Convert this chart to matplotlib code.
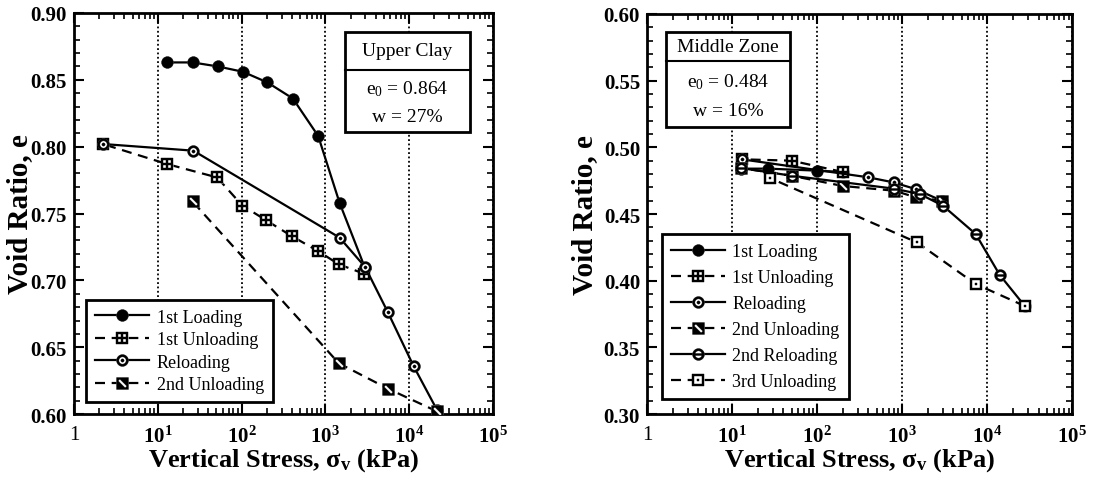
import numpy as np
import matplotlib
matplotlib.use('Agg')
import matplotlib.pyplot as plt
from matplotlib.path import Path
from matplotlib.patches import Rectangle
from matplotlib.ticker import FixedLocator, MultipleLocator, LogLocator, NullFormatter

plt.rcParams['font.family'] = ['Liberation Serif', 'DejaVu Serif']
plt.rcParams['mathtext.fontset'] = 'custom'
plt.rcParams['mathtext.rm'] = 'Liberation Serif'
plt.rcParams['mathtext.it'] = 'Liberation Serif:italic'
plt.rcParams['mathtext.bf'] = 'Liberation Serif:bold'

# --- Upper Clay (left) ---
uc_load_x = [13, 26, 52, 104, 204, 410, 822, 1480, 2990]
uc_load_e = [0.863, 0.863, 0.860, 0.856, 0.848, 0.836, 0.808, 0.758, 0.709]
uc_unload1_x = [2900, 1450, 815, 400, 196, 102, 51, 12.9, 2.2]
uc_unload1_e = [0.705, 0.712, 0.722, 0.733, 0.745, 0.756, 0.777, 0.787, 0.802]
uc_reload_x = [2.2, 26.6, 1480, 2990, 5600, 11300, 21600]
uc_reload_e = [0.802, 0.797, 0.732, 0.710, 0.676, 0.636, 0.603]
uc_unload2_x = [21600, 5600, 1450, 26]
uc_unload2_e = [0.602, 0.619, 0.638, 0.759]

# --- Middle Zone (right) ---
mz_load_x = [12.6, 26.7, 100, 200]
mz_load_e = [0.484, 0.484, 0.4825, 0.4815]
mz_unload1_x = [200, 50, 13]
mz_unload1_e = [0.4815, 0.490, 0.491]
mz_reload_x = [13, 400, 790, 1435, 2900]
mz_reload_e = [0.491, 0.4775, 0.4737, 0.4687, 0.4600]
mz_unload2_x = [2900, 1450, 800, 200, 50, 12.6]
mz_unload2_e = [0.4600, 0.4625, 0.4675, 0.471, 0.4787, 0.4845]
mz_reload2_x = [12.6, 50, 800, 1600, 3000, 7300, 14000, 27600]
mz_reload2_e = [0.4845, 0.4787, 0.469, 0.465, 0.4563, 0.435, 0.4043, 0.381]
mz_unload3_x = [27600, 7300, 1490, 27.8]
mz_unload3_e = [0.381, 0.3975, 0.4287, 0.477]

x_ticks = [1, 10, 100, 1e3, 1e4, 1e5]
x_tick_labels = ['1', r'$\mathbf{10^{1}}$', r'$\mathbf{10^{2}}$', r'$\mathbf{10^{3}}$',
                 r'$\mathbf{10^{4}}$', r'$\mathbf{10^{5}}$']


# marker shapes (holes wound the other way so they stay open)
def _poly(pts, ccw=True):
    pts = np.asarray(pts, float)
    area = np.sum(pts[:, 0] * np.roll(pts[:, 1], -1) - np.roll(pts[:, 0], -1) * pts[:, 1])
    if (area > 0) != ccw:
        pts = pts[::-1]
    return Path(np.vstack([pts, pts[:1]]), closed=True)

def _circle(r, n=40):
    t = np.linspace(0, 2 * np.pi, n, endpoint=False)
    return np.c_[r * np.cos(t), r * np.sin(t)]

def _rect(x0, y0, x1, y1):
    return np.array([[x0, y0], [x1, y0], [x1, y1], [x0, y1]])

SQ = _rect(-1, -1, 1, 1)
m_grid = Path.make_compound_path(_poly(SQ), *[_poly(_rect(a, b, a + 0.5, b + 0.5), False)
                                              for a in (-0.7, 0.2) for b in (-0.7, 0.2)])
m_slash = Path.make_compound_path(_poly(SQ), _poly([(-0.75, 0.45), (0.45, -0.75),
                                                    (0.75, -0.45), (-0.45, 0.75)], False))
m_cdot = Path.make_compound_path(_poly(_circle(1)), _poly(_circle(0.62), False), _poly(_circle(0.27)))
m_cbar = Path.make_compound_path(_poly(_circle(1)), _poly(_circle(0.62), False),
                                 _poly(_rect(-0.62, -0.16, 0.62, 0.16)))
m_sdot = Path.make_compound_path(_poly(SQ), _poly(_rect(-0.62, -0.62, 0.62, 0.62), False),
                                 _poly(_rect(-0.24, -0.24, 0.24, 0.24)))

DASH = (0, (4.5, 3))
MS = 8.5


def series(ax, x, e, ls, marker, base, z, ms=MS):
    line, = ax.plot(x, e, color='black', lw=1.6, ls=ls, zorder=z)
    back, = ax.plot(x, e, ls='none', marker=base, ms=ms, mfc='white', mec='none', zorder=z + 0.1)
    mark, = ax.plot(x, e, ls='none', marker=marker, ms=ms, mfc='black', mec='black',
                    mew=0.3, zorder=z + 0.2)
    return (line, back, mark)


def style_axes(ax, ylo, yhi, ylab_x):
    ax.set_xscale('log')
    ax.set_xlim(1, 1e5)
    ax.set_ylim(ylo, yhi)
    ax.xaxis.set_major_locator(FixedLocator(x_ticks))
    ax.set_xticklabels(x_tick_labels)
    ax.xaxis.set_minor_locator(LogLocator(base=10, subs=np.arange(2, 10)))
    ax.xaxis.set_minor_formatter(NullFormatter())
    ax.yaxis.set_major_locator(MultipleLocator(0.05))
    ax.yaxis.set_minor_locator(MultipleLocator(0.01))
    ax.yaxis.set_major_formatter(plt.FormatStrFormatter('%.2f'))
    ax.tick_params(which='both', direction='in', top=True, right=True, labelsize=15)
    ax.tick_params(which='major', length=7, width=1.5, pad=5)
    ax.tick_params(axis='x', which='major', pad=8)
    ax.tick_params(which='minor', length=4, width=1.2)
    for lab in ax.get_yticklabels():
        lab.set_fontweight('bold')
    for s in ax.spines.values():
        s.set_linewidth(2)
    ax.grid(True, which='major', axis='x', color='black', ls=(0, (1, 1.4)), lw=1.3)
    ax.set_xlabel(r'Vertical Stress, $\mathbf{\sigma_{v}}$ (kPa)', fontsize=19,
                  fontweight='bold', labelpad=0)
    ax.set_ylabel('Void Ratio, e', fontsize=21, fontweight='bold')
    ax.yaxis.set_label_coords(ylab_x, 0.5)


def info_box(ax, x0, x1, y0, ysep, y1, title, e0, w):
    ax.add_patch(Rectangle((x0, y0), x1 - x0, y1 - y0, transform=ax.transAxes,
                           fill=True, fc='white', ec='black', lw=2, zorder=10))
    ax.plot([x0, x1], [ysep, ysep], transform=ax.transAxes, color='black', lw=1.5, zorder=11)
    xc = (x0 + x1) / 2
    ax.text(xc, (ysep + y1) / 2, title, transform=ax.transAxes, ha='center', va='center',
            fontsize=14, zorder=12)
    ax.text(xc, ysep - (ysep - y0) * 0.3, r'$\mathrm{e_{0}}$ = ' + e0, transform=ax.transAxes,
            ha='center', va='center', fontsize=14, zorder=12)
    ax.text(xc, ysep - (ysep - y0) * 0.75, 'w = ' + w, transform=ax.transAxes,
            ha='center', va='center', fontsize=14, zorder=12)


def add_legend(ax, handles, labels, anchor, spacing):
    leg = ax.legend(handles, labels, loc='lower left', bbox_to_anchor=anchor, borderaxespad=0,
                    fontsize=13, handlelength=3.0, handletextpad=0.4, labelspacing=spacing,
                    borderpad=0.5, fancybox=False, framealpha=1, edgecolor='black')
    leg.get_frame().set_linewidth(2)
    leg.set_zorder(20)


fig = plt.figure(figsize=(11.05, 4.81), dpi=100)
ax1 = fig.add_axes([0.067, 0.137, 0.379, 0.834])
ax2 = fig.add_axes([0.5855, 0.137, 0.385, 0.832])

# left panel
h1 = series(ax1, uc_load_x, uc_load_e, '-', 'o', 'o', 3)
h2 = series(ax1, uc_unload1_x, uc_unload1_e, DASH, m_grid, 's', 4)
h3 = series(ax1, uc_reload_x, uc_reload_e, '-', m_cdot, 'o', 5)
h4 = series(ax1, uc_unload2_x, uc_unload2_e, DASH, m_slash, 's', 6)
style_axes(ax1, 0.60, 0.90, -0.098)
info_box(ax1, 0.647, 0.945, 0.703, 0.858, 0.953, 'Upper Clay', '0.864', '27%')
add_legend(ax1, [h1, h2, h3, h4], ['1st Loading', '1st Unloading', 'Reloading', '2nd Unloading'],
           (0.029, 0.03), 0.3)

# right panel
g1 = series(ax2, mz_load_x, mz_load_e, '-', 'o', 'o', 3)
g2 = series(ax2, mz_unload1_x, mz_unload1_e, DASH, m_grid, 's', 4)
g3 = series(ax2, mz_reload_x, mz_reload_e, '-', m_cdot, 'o', 5)
g4 = series(ax2, mz_unload2_x, mz_unload2_e, DASH, m_slash, 's', 6)
g5 = series(ax2, mz_reload2_x, mz_reload2_e, '-', m_cbar, 'o', 7)
g6 = series(ax2, mz_unload3_x, mz_unload3_e, DASH, m_sdot, 's', 8)
style_axes(ax2, 0.30, 0.60, -0.115)
info_box(ax2, 0.045, 0.336, 0.7175, 0.8825, 0.955, 'Middle Zone', '0.484', '16%')
add_legend(ax2, [g1, g2, g3, g4, g5, g6],
           ['1st Loading', '1st Unloading', 'Reloading', '2nd Unloading',
            '2nd Reloading', '3rd Unloading'], (0.035, 0.0375), 0.5)

fig.savefig('out.png', dpi=100)
